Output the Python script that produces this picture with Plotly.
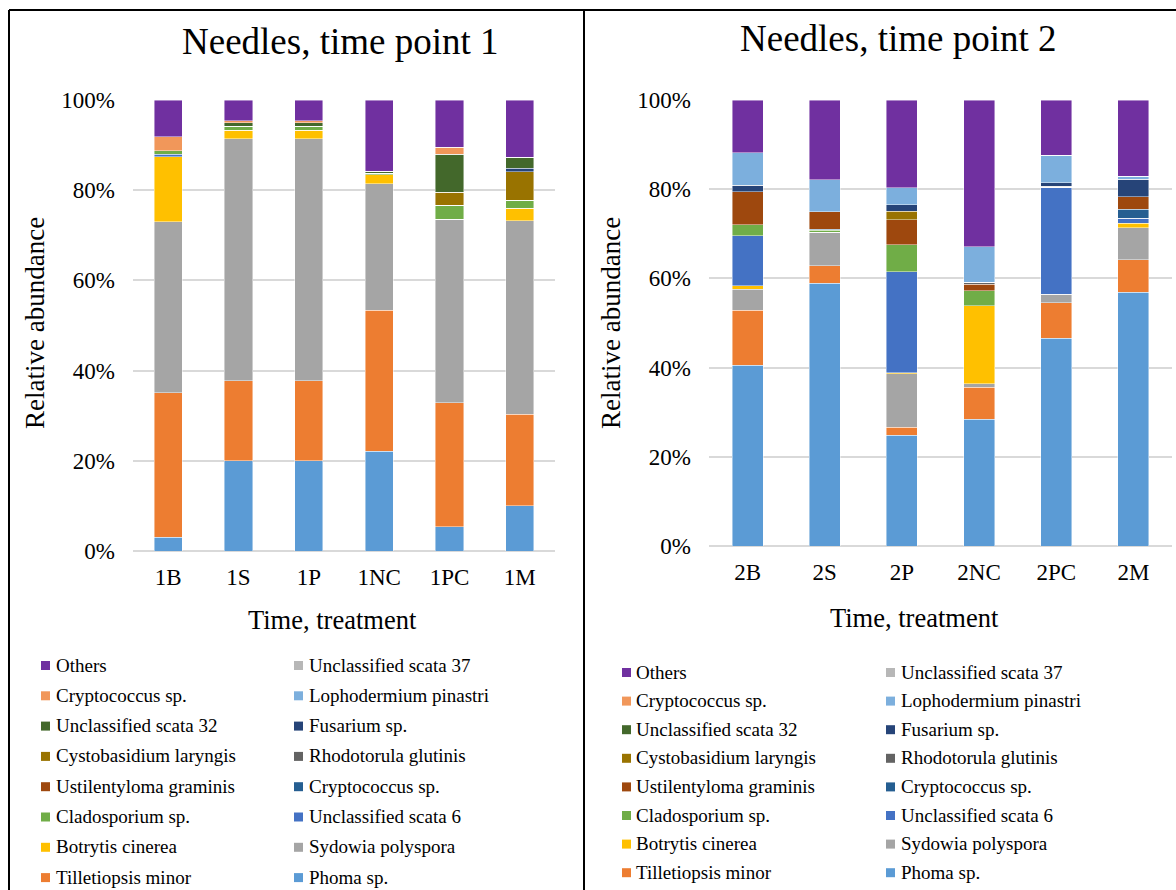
import plotly.graph_objects as go

W, H = 1176, 890

# Treatments per sampling time
cats_t1 = ["1B", "1S", "1P", "1NC", "1PC", "1M"]
cats_t2 = ["2B", "2S", "2P", "2NC", "2PC", "2M"]

# Relative abundance (%) per taxon, stacked from bottom to top
phoma_t1 = [3.0, 20.0, 20.0, 22.1, 5.4, 10.0]
phoma_t2 = [40.5, 58.9, 24.8, 28.4, 46.6, 56.9]
tilletiopsis_t1 = [32.1, 17.8, 17.8, 31.3, 27.5, 20.3]
tilletiopsis_t2 = [12.4, 3.9, 1.8, 7.2, 7.9, 7.3]
sydowia_t1 = [37.9, 53.6, 53.6, 28.0, 40.7, 42.9]
sydowia_t2 = [4.7, 7.5, 12.0, 0.8, 2.0, 7.2]
botrytis_t1 = [14.4, 1.9, 1.9, 2.0, 0.0, 2.8]
botrytis_t2 = [0.7, 0.0, 0.2, 17.5, 0.0, 1.0]
scata6_t1 = [0.6, 0.0, 0.0, 0.0, 0.0, 0.0]
scata6_t2 = [11.3, 0.0, 22.7, 0.0, 23.9, 1.1]
cladosporium_t1 = [0.7, 0.9, 0.9, 0.4, 3.1, 1.8]
cladosporium_t2 = [2.4, 0.5, 6.0, 3.3, 0.0, 0.0]
cryptococcus_a_t1 = [0.0, 0.0, 0.0, 0.0, 0.0, 0.0]
cryptococcus_a_t2 = [0.0, 0.2, 0.0, 0.0, 0.0, 2.0]
ustilentyloma_t1 = [0.0, 0.0, 0.0, 0.0, 0.0, 0.0]
ustilentyloma_t2 = [7.4, 4.0, 5.7, 1.5, 0.0, 2.8]
rhodotorula_t1 = [0.0, 0.0, 0.0, 0.0, 0.0, 0.0]
rhodotorula_t2 = [0.0, 0.0, 0.0, 0.4, 0.3, 0.0]
cystobasidium_t1 = [0.0, 0.0, 0.0, 0.0, 2.8, 6.3]
cystobasidium_t2 = [0.0, 0.0, 1.9, 0.0, 0.0, 0.0]
fusarium_t1 = [0.0, 0.0, 0.0, 0.0, 0.0, 0.8]
fusarium_t2 = [1.5, 0.0, 1.4, 0.0, 0.8, 3.9]
scata32_t1 = [0.0, 0.8, 0.8, 0.4, 8.5, 2.4]
scata32_t2 = [0.0, 0.0, 0.0, 0.0, 0.0, 0.0]
lophodermium_t1 = [0.0, 0.0, 0.0, 0.0, 0.0, 0.0]
lophodermium_t2 = [7.3, 7.1, 3.8, 8.0, 6.1, 0.7]
cryptococcus_b_t1 = [3.1, 0.4, 0.4, 0.0, 1.5, 0.0]
cryptococcus_b_t2 = [0.0, 0.0, 0.0, 0.0, 0.0, 0.0]
scata37_t1 = [0.0, 0.0, 0.0, 0.0, 0.0, 0.0]
scata37_t2 = [0.0, 0.0, 0.0, 0.0, 0.0, 0.0]
others_t1 = [8.2, 4.6, 4.6, 15.8, 10.5, 12.7]
others_t2 = [11.8, 17.9, 19.7, 32.9, 12.4, 17.1]

series_names = [
    "Phoma sp.", "Tilletiopsis minor", "Sydowia polyspora", "Botrytis cinerea",
    "Unclassified scata 6", "Cladosporium sp.", "Cryptococcus sp.",
    "Ustilentyloma graminis", "Rhodotorula glutinis", "Cystobasidium laryngis",
    "Fusarium sp.", "Unclassified scata 32", "Lophodermium pinastri",
    "Cryptococcus sp.", "Unclassified scata 37", "Others",
]
series_colors = [
    "#5B9BD5", "#ED7D31", "#A5A5A5", "#FFC000", "#4472C4", "#70AD47",
    "#255E91", "#9E480E", "#636363", "#997300", "#264478", "#43682B",
    "#7CAFDD", "#F1975A", "#B7B7B7", "#7030A0",
]
values_t1 = [phoma_t1, tilletiopsis_t1, sydowia_t1, botrytis_t1, scata6_t1,
             cladosporium_t1, cryptococcus_a_t1, ustilentyloma_t1, rhodotorula_t1,
             cystobasidium_t1, fusarium_t1, scata32_t1, lophodermium_t1,
             cryptococcus_b_t1, scata37_t1, others_t1]
values_t2 = [phoma_t2, tilletiopsis_t2, sydowia_t2, botrytis_t2, scata6_t2,
             cladosporium_t2, cryptococcus_a_t2, ustilentyloma_t2, rhodotorula_t2,
             cystobasidium_t2, fusarium_t2, scata32_t2, lophodermium_t2,
             cryptococcus_b_t2, scata37_t2, others_t2]

y_ticks = [0, 20, 40, 60, 80, 100]
y_tick_labels = ["0%", "20%", "40%", "60%", "80%", "100%"]

FONT = "Liberation Serif, Times New Roman, serif"


def fx(px):
    return px / W


def fy(py):
    return 1 - py / H


fig = go.Figure()

for name, color, v1, v2 in zip(series_names, series_colors, values_t1, values_t2):
    for cats, vals, xa, ya in ((cats_t1, v1, "x", "y"), (cats_t2, v2, "x2", "y2")):
        fig.add_trace(go.Bar(
            x=cats, y=vals, name=name, xaxis=xa, yaxis=ya,
            marker=dict(color=color, line=dict(color="rgba(255,255,255,0.55)", width=0.8)),
            showlegend=False,
        ))

axis_font = dict(family=FONT, size=23, color="#000000")
common_y = dict(range=[0, 100], tickmode="array", tickvals=y_ticks, ticktext=y_tick_labels,
                showgrid=True, gridcolor="#D9D9D9", gridwidth=1.5,
                zeroline=True, zerolinecolor="#D9D9D9", zerolinewidth=1.5,
                showline=False, ticks="", tickfont=axis_font, ticklabelstandoff=17,
                automargin=False)
common_x = dict(showgrid=False, showline=False, zeroline=False, ticks="",
                tickfont=axis_font, ticklabelstandoff=10, type="category",
                automargin=False)

fig.update_layout(
    width=W, height=H,
    margin=dict(l=0, r=0, t=0, b=0, pad=0),
    paper_bgcolor="white", plot_bgcolor="white",
    barmode="stack", bargap=0.6,
    showlegend=False,
    font=dict(family=FONT, color="#000000"),
    xaxis=dict(domain=[fx(133), fx(555)], anchor="y", **common_x),
    yaxis=dict(domain=[fy(551), fy(100)], anchor="x", **common_y),
    xaxis2=dict(domain=[fx(709), fx(1172)], anchor="y2", **common_x),
    yaxis2=dict(domain=[fy(546), fy(100)], anchor="x2", **common_y),
)

# Panel frames
frame = dict(type="line", xref="paper", yref="paper", line=dict(color="#000000", width=2))
fig.add_shape(x0=fx(9), x1=1, y0=fy(10), y1=fy(10), **frame)
fig.add_shape(x0=fx(9), x1=fx(9), y0=fy(10), y1=0, **frame)
fig.add_shape(x0=fx(584), x1=fx(584), y0=fy(10), y1=0, **frame)

# Titles and axis titles
panels = [
    dict(title="Needles, time point 1", tx=340, ty=42, yx=35, yy=323, xx=332, xy=620),
    dict(title="Needles, time point 2", tx=898, ty=39, yx=611, yy=323, xx=915, xy=618),
]
for p in panels:
    fig.add_annotation(text=p["title"], x=fx(p["tx"]), y=fy(p["ty"]), xref="paper", yref="paper",
                       showarrow=False, xanchor="center", yanchor="middle",
                       font=dict(family=FONT, size=37, color="#000000"))
    fig.add_annotation(text="Relative abundance", x=fx(p["yx"]), y=fy(p["yy"]), xref="paper", yref="paper",
                       showarrow=False, xanchor="center", yanchor="middle", textangle=-90,
                       font=dict(family=FONT, size=27, color="#000000"))
    fig.add_annotation(text="Time, treatment", x=fx(p["xx"]), y=fy(p["xy"]), xref="paper", yref="paper",
                       showarrow=False, xanchor="center", yanchor="middle",
                       font=dict(family=FONT, size=26.5, color="#000000"))

# Legends: two columns, reversed series order read row by row
legend_specs = [
    dict(cols=[(41, 54), (294, 307)], y0=665, dy=30.3),
    dict(cols=[(622, 634), (886, 899)], y0=672, dy=28.6),
]
legend_order = list(range(len(series_names)))[::-1]
for spec in legend_specs:
    for k, idx in enumerate(legend_order):
        row, col = divmod(k, 2)
        sx, tx = spec["cols"][col]
        cy = spec["y0"] + row * spec["dy"]
        fig.add_shape(type="rect", xref="paper", yref="paper",
                      x0=fx(sx), x1=fx(sx + 9), y0=fy(cy + 5), y1=fy(cy - 4),
                      fillcolor=series_colors[idx], line=dict(width=0))
        fig.add_annotation(text=series_names[idx], x=fx(tx), y=fy(cy), xref="paper", yref="paper",
                           showarrow=False, xanchor="left", yanchor="middle",
                           font=dict(family=FONT, size=19, color="#000000"))

fig.write_html("out.html")
